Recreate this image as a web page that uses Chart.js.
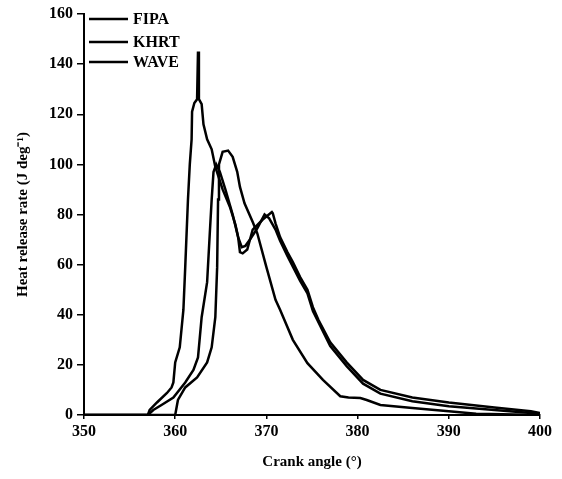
<!DOCTYPE html>
<html>
<head>
<meta charset="utf-8">
<script src="https://cdn.jsdelivr.net/npm/chart.js@4.4.1/dist/chart.umd.min.js"></script>
<style>
  html, body { margin: 0; padding: 0; background: #fff; }
  #wrap { width: 562px; height: 479px; }
</style>
</head>
<body>
<div id="wrap"><canvas id="c" width="562" height="479"></canvas></div>
<script>
// ---- Data ----
const seriesLabels = ['FIPA', 'KHRT', 'WAVE'];

const fipaAngle = [350, 357, 357.2, 358, 359.1, 359.6, 359.8, 360, 360.5, 360.9, 361.1, 361.4, 361.6, 361.8, 361.85, 362.1, 362.4, 362.5, 362.6, 362.9, 363.1, 363.5, 364, 364.4, 365.2, 366, 366.6, 366.9, 367.1, 367.4, 367.9, 368.5, 369.6, 370.6, 370.7, 371, 371.5, 372.3, 372.9, 373.7, 374.5, 375.1, 375.7, 377, 378.8, 380.6, 382.5, 386, 390, 395, 399, 400];
const fipaHRR   = [0, 0, 2, 5, 8.8, 11, 13, 21, 27, 42, 59, 86, 100, 110, 121, 124.5, 126, 145, 126, 124, 116, 110, 106, 99, 90, 83, 76, 71, 65, 64.5, 66, 74, 78, 81, 80.5, 76.5, 71, 65, 61, 55, 50, 43, 38, 29, 21, 14, 10, 7, 5, 3, 1.5, 0.8];

const khrtAngle = [350, 357, 357.6, 358.5, 359.8, 361.1, 362, 362.5, 362.9, 363.5, 363.8, 364, 364.2, 364.5, 364.9, 365.5, 366.3, 366.9, 367.3, 367.7, 368.2, 369, 369.8, 370.3, 371, 371.5, 372.3, 373, 373.7, 374.5, 375.1, 377, 378.8, 380.6, 382.5, 386, 390, 395, 400];
const khrtHRR   = [0, 0, 2, 4, 7, 13, 18, 23, 39, 53, 73, 86, 97, 100, 97, 90, 80, 71, 67, 67.5, 70, 74.5, 80, 78.5, 74, 69.5, 63.5, 58.5, 53.5, 48.5, 41.5, 27.5, 19.5, 12.5, 8.5, 5.5, 3.5, 2, 0.5];

const waveAngle = [350, 360, 360.3, 361.1, 362.4, 363.5, 364, 364.4, 364.6, 364.7, 364.8, 365.2, 365.8, 366.3, 366.8, 367.1, 367.6, 368.5, 369, 370, 371, 371.5, 372.9, 374.5, 376.2, 378.1, 379, 380.3, 381, 382.5, 386, 390, 393, 400];
const waveHRR   = [0, 0, 6, 11, 15, 21, 27, 39, 59, 86, 100, 105, 105.5, 103, 97, 91, 84.5, 77, 72.5, 59, 46, 42, 30, 20.7, 14, 7.5, 7, 6.8, 6, 4, 2.8, 1.5, 0.5, 0];

const xTicks = [350, 360, 370, 380, 390, 400];
const yTicks = [0, 20, 40, 60, 80, 100, 120, 140, 160];

// ---- Build chart ----
const FONT = '"Liberation Serif", "Times New Roman", serif';
const toPts = (xs, ys) => xs.map((x, i) => ({ x: x, y: ys[i] }));

const allSeries = [
  toPts(fipaAngle, fipaHRR),
  toPts(khrtAngle, khrtHRR),
  toPts(waveAngle, waveHRR)
];

const legendPlugin = {
  id: 'inlineLegend',
  afterDraw(chart) {
    const ctx = chart.ctx;
    const x0 = chart.chartArea.left + 5;
    const ys = [19, 42, 62];
    ctx.save();
    ctx.strokeStyle = '#000';
    ctx.fillStyle = '#000';
    ctx.lineWidth = 2.5;
    ctx.font = 'bold 16px ' + FONT;
    ctx.textBaseline = 'middle';
    chart.data.datasets.forEach((ds, i) => {
      ctx.beginPath();
      ctx.moveTo(x0, ys[i]);
      ctx.lineTo(x0 + 39, ys[i]);
      ctx.stroke();
      ctx.fillText(ds.label, x0 + 44, ys[i] + 1);
    });
    ctx.restore();
  }
};

new Chart(document.getElementById('c'), {
  type: 'scatter',
  data: {
    datasets: allSeries.map((pts, i) => ({
      label: seriesLabels[i],
      data: pts,
      showLine: true,
      borderColor: '#000',
      backgroundColor: '#000',
      borderWidth: 2.5,
      pointRadius: 0,
      tension: 0
    }))
  },
  options: {
    responsive: false,
    animation: false,
    devicePixelRatio: 1,
    layout: { padding: { left: 0, right: 22, top: 14, bottom: 0 } },
    plugins: { legend: { display: false }, tooltip: { enabled: false } },
    scales: {
      x: {
        type: 'linear',
        min: 350, max: 400,
        afterBuildTicks: s => { s.ticks = xTicks.map(v => ({ value: v })); },
        afterFit: s => { s.height = 64; },
        ticks: { color: '#000', padding: 3, font: { family: FONT, size: 16, weight: 'bold' }, maxRotation: 0 },
        grid: { drawOnChartArea: false, drawTicks: true, tickLength: 4, color: '#000', lineWidth: 1.5 },
        border: { display: true, color: '#000', width: 2 },
        title: { display: true, text: 'Crank angle (°)', color: '#000', font: { family: FONT, size: 15, weight: 'bold' }, padding: { top: 0, bottom: 8 } }
      },
      y: {
        type: 'linear',
        min: 0, max: 160,
        afterBuildTicks: s => { s.ticks = yTicks.map(v => ({ value: v })); },
        afterFit: s => { s.width = 84; },
        ticks: { color: '#000', padding: 4, font: { family: FONT, size: 16, weight: 'bold' } },
        grid: { drawOnChartArea: false, drawTicks: true, tickLength: 7, color: '#000', lineWidth: 1.5 },
        border: { display: true, color: '#000', width: 2 },
        title: { display: true, text: 'Heat release rate (J deg⁻¹)', color: '#000', font: { family: FONT, size: 15, weight: 'bold' }, padding: { top: 14, bottom: 0 } }
      }
    }
  },
  plugins: [legendPlugin]
});
</script>
</body>
</html>
